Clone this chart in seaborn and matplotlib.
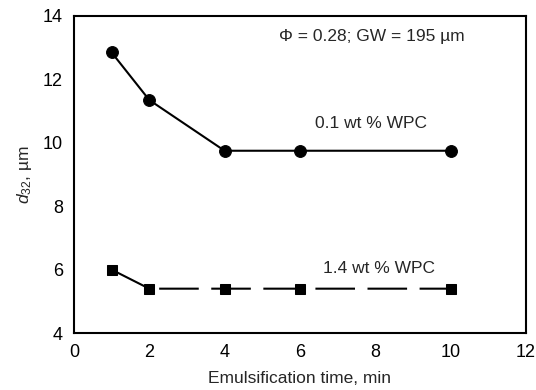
import matplotlib
matplotlib.use("Agg")
import matplotlib.pyplot as plt
import seaborn as sns
import pandas as pd

time_min = [1, 2, 4, 6, 10]
d32_low = [12.85, 11.35, 9.75, 9.75, 9.75]   # 0.1 wt % WPC
d32_high = [6.0, 5.4, 5.4, 5.4, 5.4]         # 1.4 wt % WPC
xticks = [0, 2, 4, 6, 8, 10, 12]
yticks = [4, 6, 8, 10, 12, 14]

sns.set_style("white")
plt.rcParams['font.family'] = ['Liberation Sans', 'DejaVu Sans']
plt.rcParams['mathtext.fontset'] = 'custom'
plt.rcParams['mathtext.rm'] = 'Liberation Sans'
plt.rcParams['mathtext.it'] = 'Liberation Sans:italic'

fig = plt.figure(figsize=(5.36, 3.90), dpi=100)
ax = fig.add_axes([0.138, 0.146, 0.843, 0.813])

df1 = pd.DataFrame({"t": time_min, "d": d32_low})
df2 = pd.DataFrame({"t": time_min, "d": d32_high})

sns.lineplot(data=df1, x="t", y="d", ax=ax, color="black", marker="o",
             markersize=8.5, linewidth=1.5, markeredgecolor="black")
sns.lineplot(data=df2, x="t", y="d", ax=ax, color="black", marker="s",
             markersize=7.5, linewidth=1.5, markeredgecolor="black")
ax.lines[1].set_dashes([19, 6])

ax.set_xlim(0, 12)
ax.set_ylim(4, 14)
ax.set_xticks(xticks)
ax.set_yticks(yticks)
ax.tick_params(direction="in", length=4, width=1.2, labelsize=13, colors="black",
               pad=8)
for s in ax.spines.values():
    s.set_color("black")
    s.set_linewidth(1.5)

ax.set_xlabel("Emulsification time, min", fontsize=12.5, labelpad=7)
ax.set_ylabel(r"$d_{32}$, µm", fontsize=12.5, labelpad=6)

ax.text(7.9, 13.35, "Φ = 0.28; GW = 195 µm", ha="center", va="center", fontsize=12.5)
ax.text(7.9, 10.6, "0.1 wt % WPC", ha="center", va="center", fontsize=12.5)
ax.text(8.1, 6.05, "1.4 wt % WPC", ha="center", va="center", fontsize=12.5)

fig.savefig("out.png", dpi=100)
